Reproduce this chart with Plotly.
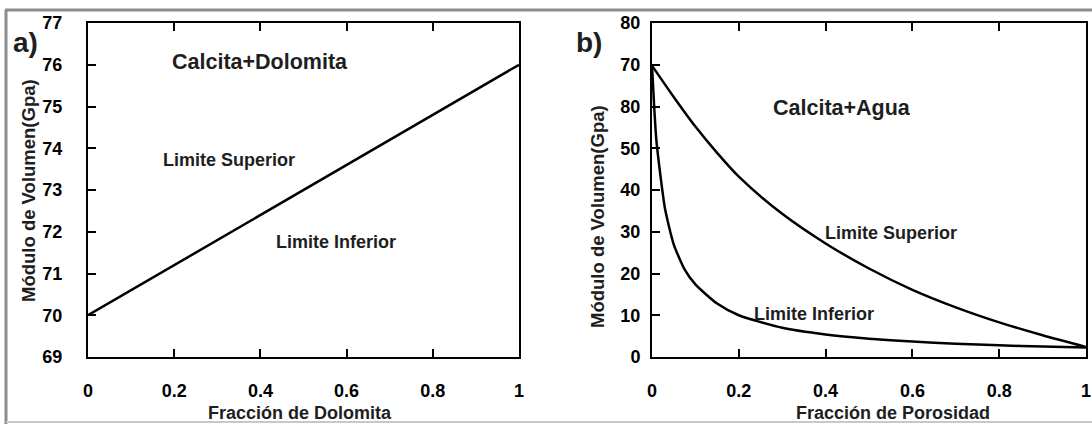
import plotly.graph_objects as go

W, H = 1092, 424

# ---- data ----
dolomita_frac = [0.0, 1.0]
dolomita_k = [70.0, 76.0]

porosidad_sup = [0.0, 0.05, 0.1, 0.15, 0.2, 0.3, 0.4, 0.5, 0.6, 0.7, 0.8, 0.9, 1.0]
k_superior = [69.8, 62.3, 55.2, 48.9, 43.2, 34.3, 27.2, 21.2, 16.1, 11.9, 8.3, 5.2, 2.4]

porosidad_inf = [0.0, 0.005, 0.01, 0.02, 0.03, 0.05, 0.075, 0.1, 0.15, 0.2, 0.3, 0.4,
                 0.5, 0.6, 0.7, 0.8, 0.9, 1.0]
k_inferior = [69.8, 60.0, 52.0, 43.0, 35.5, 27.0, 21.0, 17.4, 12.8, 10.0, 7.0, 5.4,
              4.4, 3.7, 3.2, 2.8, 2.5, 2.3]

x_ticks = [0, 0.2, 0.4, 0.6, 0.8, 1]
x_ticktext = ["0", "0.2", "0.4", "0.6", "0.8", "1"]
ya_ticks = [69, 70, 71, 72, 73, 74, 75, 76, 77]
ya_ticktext = ["69", "70", "71", "72", "73", "74", "75", "76", "77"]
yb_ticks = [0, 10, 20, 30, 40, 50, 60, 70, 80]
yb_ticktext = ["0", "10", "20", "30", "40", "50", "80", "70", "80"]


def px(x):
    return x / W


def py(y):
    return 1 - y / H


fig = go.Figure()
fig.add_trace(go.Scatter(x=dolomita_frac, y=dolomita_k, mode="lines",
                         line=dict(color="black", width=2.5),
                         xaxis="x", yaxis="y", showlegend=False, hoverinfo="skip"))
fig.add_trace(go.Scatter(x=porosidad_sup, y=k_superior, mode="lines",
                         line=dict(color="black", width=2.5, shape="spline", smoothing=0.8),
                         xaxis="x2", yaxis="y2", showlegend=False, hoverinfo="skip"))
fig.add_trace(go.Scatter(x=porosidad_inf, y=k_inferior, mode="lines",
                         line=dict(color="black", width=2.5, shape="spline", smoothing=0.6),
                         xaxis="x2", yaxis="y2", showlegend=False, hoverinfo="skip"))

tickfont = dict(family="Liberation Sans Narrow, Liberation Sans, Arial, sans-serif",
                size=18, color="black", weight="bold")
common_axis = dict(showline=True, linecolor="black", linewidth=2, ticks="inside",
                   ticklen=8, tickwidth=1.8, tickcolor="black", showgrid=False,
                   zeroline=False, tickfont=tickfont, automargin=False)

ydom = [py(357), py(23)]
fig.update_layout(
    width=W, height=H, margin=dict(l=0, r=0, t=0, b=0, autoexpand=False),
    paper_bgcolor="white", plot_bgcolor="white",
    xaxis=dict(domain=[px(88), px(519)], range=[0, 1], tickvals=x_ticks,
               ticktext=x_ticktext, mirror="ticks", anchor="y",
               ticklabelstandoff=16, **common_axis),
    yaxis=dict(domain=ydom, range=[69, 77], tickvals=ya_ticks, ticktext=ya_ticktext,
               mirror=True, anchor="x", ticklabelstandoff=20, **common_axis),
    xaxis2=dict(domain=[px(652), px(1086)], range=[0, 1], tickvals=x_ticks,
                ticktext=x_ticktext, mirror="ticks", anchor="y2",
                ticklabelstandoff=16, **common_axis),
    yaxis2=dict(domain=ydom, range=[0, 80], tickvals=yb_ticks, ticktext=yb_ticktext,
                mirror=True, anchor="x2", ticklabelstandoff=6, **common_axis),
)

lab_font = "Liberation Sans, Arial, sans-serif"
annots = [
    ("a)", 25, 42, 28, 0, "bold"),
    ("b)", 589, 42, 28, 0, "bold"),
    ("Calcita+Dolomita", 260, 62, 21.5, 0, "bold"),
    ("Limite Superior", 229, 160, 18, 0, "bold"),
    ("Limite Inferior", 336, 242, 18, 0, "bold"),
    ("Calcita+Agua", 842, 108, 21.5, 0, "bold"),
    ("Limite Superior", 891, 233, 18, 0, "bold"),
    ("Limite Inferior", 814, 314, 18, 0, "bold"),
    ("Fracción de Dolomita", 300, 413, 18, 0, "bold"),
    ("Fracción de Porosidad", 893, 413, 18, 0, "bold"),
    ("Módulo de Volumen(Gpa)", 28, 191, 18.5, -90, "bold"),
    ("Módulo de Volumen(Gpa)", 597, 216, 18.5, -90, "bold"),
]
for text, x, y, size, ang, wt in annots:
    fig.add_annotation(text=text, x=px(x), y=py(y), xref="paper", yref="paper",
                       xanchor="center", yanchor="middle", showarrow=False,
                       textangle=ang,
                       font=dict(family=lab_font, size=size, color="#1e1e1e", weight=wt))

# outer gray frame of the picture
border = dict(color="#8c8c8c", width=3)
fig.add_shape(type="line", xref="paper", yref="paper", x0=px(5), x1=1, y0=py(10), y1=py(10), line=border)
fig.add_shape(type="line", xref="paper", yref="paper", x0=px(6), x1=px(6), y0=py(10), y1=py(424), line=border)
fig.add_shape(type="line", xref="paper", yref="paper", x0=px(6), x1=1, y0=py(422), y1=py(422),
              line=dict(color="#c8c8c8", width=2))

fig.write_html("out.html", config={"displayModeBar": False},
               post_script="document.body.style.margin='0px';document.body.style.overflow='hidden';")
